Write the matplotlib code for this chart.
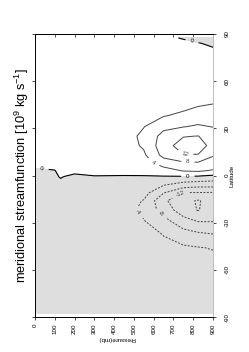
import numpy as np
import matplotlib.pyplot as plt

plt.rcParams['font.family'] = ['Liberation Sans', 'DejaVu Sans']
plt.rcParams['mathtext.default'] = 'regular'

# grid of the streamfunction (10^9 kg/s), rows = pressure, columns = latitude
lat = [-87.5, -70, -55, -46, -37, -29, -22, -16, -11, -6, -1, 3, 8, 13, 19, 25, 31, 38, 46, 60, 75, 84, 87.5]
pres = [10, 100, 130, 150, 200, 300, 450, 550, 650, 750, 825, 900]
psi = np.array([
    [-0.02, -0.04, -0.06, -0.08, -0.1, -0.1, -0.1, -0.1, -0.08, -0.06, -0.04, -0.02, 0.04, 0.06, 0.08, 0.1, 0.1, 0.08, 0.06, 0.04, 0.03, 0.02, 0.01],
    [-0.03, -0.06, -0.1, -0.12, -0.15, -0.16, -0.17, -0.16, -0.14, -0.1, -0.05, -0.01, 0.1, 0.15, 0.2, 0.22, 0.22, 0.2, 0.15, 0.1, 0.06, 0.04, 0.02],
    [-0.04, -0.08, -0.14, -0.18, -0.22, -0.24, -0.25, -0.24, -0.2, -0.1, 0.02, 0.08, 0.18, 0.25, 0.3, 0.32, 0.32, 0.28, 0.2, 0.14, 0.08, 0.05, 0.03],
    [-0.05, -0.1, -0.2, -0.25, -0.3, -0.35, -0.36, -0.35, -0.3, -0.2, -0.02, 0.15, 0.3, 0.4, 0.45, 0.48, 0.46, 0.4, 0.3, 0.2, 0.1, 0.06, 0.04],
    [-0.08, -0.2, -0.35, -0.45, -0.55, -0.65, -0.7, -0.68, -0.55, -0.35, -0.1, 0.1, 0.45, 0.65, 0.8, 0.85, 0.8, 0.65, 0.45, 0.3, 0.15, 0.08, 0.05],
    [-0.1, -0.3, -0.6, -0.8, -1.0, -1.2, -1.3, -1.2, -0.9, -0.5, -0.1, 0.4, 0.8, 1.1, 1.3, 1.4, 1.2, 0.9, 0.6, 0.4, 0.2, 0.1, 0.1],
    [-0.2, -0.5, -1.0, -1.4, -1.8, -2.2, -2.4, -2.3, -1.8, -1.0, -0.2, 0.6, 1.3, 2.0, 2.3, 2.5, 2.3, 1.8, 1.2, 0.7, 0.4, 0.2, 0.1],
    [-0.3, -0.8, -1.5, -2.0, -2.6, -3.8, -5.0, -4.2, -2.6, -1.6, -0.3, 1.0, 2.2, 3.4, 4.5, 4.8, 3.9, 2.6, 1.7, 1.0, 0.5, 0.3, 0.2],
    [-0.4, -1.2, -2.2, -3.0, -4.2, -6.6, -9.6, -11.2, -7.8, -3.8, -0.4, 2.2, 6.0, 9.2, 10.3, 9.4, 7.0, 3.8, 2.2, 1.3, 0.7, 0.4, 0.3],
    [-0.5, -1.5, -2.6, -3.4, -6.5, -10.5, -14.2, -15.0, -12.1, -5.8, -0.6, 4.2, 7.4, 11.9, 13.8, 11.8, 7.9, 4.8, 2.6, 1.6, 0.8, 0.3, -0.1],
    [-0.5, -1.5, -3.0, -3.8, -7.5, -12.2, -16.2, -16.3, -12.2, -6.5, -0.8, 4.5, 7.6, 11.8, 14.0, 12.1, 8.5, 6.0, 3.3, 2.0, 1.0, 0.1, -0.6],
    [-0.5, -1.5, -3.0, -4.2, -8.1, -12.2, -14.0, -14.5, -12.3, -6.5, -1.5, 3.5, 7.5, 8.1, 10.5, 10.0, 7.9, 5.5, 3.9, 2.2, 0.8, -0.3, -0.8],
])

neg_levels = [-16, -12, -8, -4]
pos_levels = [4, 8, 12]
pres_ticks = [0, 100, 200, 300, 400, 500, 600, 700, 800, 900]
lat_ticks = [-90, -60, -30, 0, 30, 60, 90]

fig = plt.figure(figsize=(2.49, 3.52), dpi=100)
ax = fig.add_axes([0.1406, 0.0994, 0.7149, 0.804])

z = psi.T
ax.contourf(pres, lat, z, levels=[-100, 0], colors=['#dedede'])
cn = ax.contour(pres, lat, z, levels=neg_levels, colors='#444444', linewidths=0.7)
cn.set_linestyle((0, (2, 1.5)))
cp = ax.contour(pres, lat, z, levels=pos_levels, colors='#444444', linewidths=0.7)
c0 = ax.contour(pres, lat, z, levels=[0], colors='black', linewidths=0.8)

ax.clabel(cn, fmt='%d', fontsize=4.5, manual=[(515, -24), (641, -24), (742, -13)])
ax.clabel(cp, fmt='%d', fontsize=4.5, manual=[(596, 7.7), (773, 9), (758, 12.8)])
ax.clabel(c0, fmt='%d', fontsize=4.5, manual=[(35, 3.8), (773, -0.6), (793, 85)])

ax.set_xlim(0, 900)
ax.set_ylim(-90, 90)
ax.set_xticks(pres_ticks)
ax.set_yticks(lat_ticks)
ax.set_xticklabels([str(p) for p in pres_ticks], rotation=90, fontsize=4.5)
ax.set_yticklabels([str(l) for l in lat_ticks], rotation=90, fontsize=4.5, va='center')
ax.tick_params(axis='x', direction='out', length=2.5, width=0.5, pad=2)
ax.tick_params(axis='y', left=True, right=True, labelleft=False, labelright=True,
               direction='out', length=2.5, width=0.5, pad=6)
top = ax.secondary_xaxis('top')
top.set_xticks(pres_ticks)
top.set_xticklabels([])
top.tick_params(direction='in', length=2.5, width=0.5)
top.spines['top'].set_linewidth(0.7)
for s in ['left', 'top', 'bottom']:
    ax.spines[s].set_linewidth(0.7)
ax.spines['right'].set_color('#bbbbbb')
ax.spines['right'].set_linewidth(0.7)

fig.text(232 / 249, 1 - 176 / 352, 'Latitude', rotation=90, fontsize=4.5, ha='center', va='center')
fig.text(117 / 249, 1 - 339 / 352, 'Pressure(mb)', rotation=180, fontsize=4.5, ha='center', va='center')
fig.text(22 / 249, 1 - 176 / 352, 'meridional streamfunction [10$^{9}$ kg s$^{-1}$]',
         rotation=90, fontsize=9.2, ha='center', va='center')

fig.savefig('out.png', dpi=100)
